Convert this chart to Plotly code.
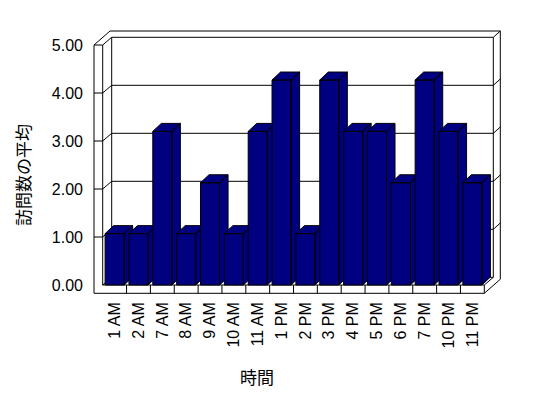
import plotly.graph_objects as go

# ---------------- data ----------------
hours = ["1 AM", "2 AM", "7 AM", "8 AM", "9 AM", "10 AM", "11 AM", "1 PM",
         "2 PM", "3 PM", "4 PM", "5 PM", "6 PM", "7 PM", "10 PM", "11 PM"]
avg_visits = [1.07, 1.07, 3.20, 1.07, 2.13, 1.07, 3.20, 4.27,
              1.07, 4.27, 3.20, 3.20, 2.13, 4.27, 3.20, 2.13]
y_tick_values = [0, 1, 2, 3, 4, 5]
y_tick_labels = ["0.00", "1.00", "2.00", "3.00", "4.00", "5.00"]
x_title = "時間"
y_title = "訪問数の平均"

# ---------------- geometry ----------------
W, H = 548, 398
PX_X = 23.85          # pixels per category slot
PX_Y = 48.0           # pixels per value unit
L, R, T, B = 90, 502, 28, 296       # plot-area pixel box
FRONT_LEFT_PX, FLOOR_PX = 102.7, 285.0
N = len(hours)
YMAX = y_tick_values[-1]

x0 = -0.5 - (FRONT_LEFT_PX - L) / PX_X
x1 = x0 + (R - L) / PX_X
y0 = -(B - FLOOR_PX) / PX_Y
y1 = y0 + (B - T) / PX_Y

BAR_HALF = 0.4
BDX, BDY = 8.5 / PX_X, 8.0 / PX_Y      # bar depth
WT = 8.7 / PX_X                          # left wall thickness
FT = 8.3 / PX_Y                          # floor thickness
DX1, DY1 = 9.0 / PX_X, 7.7 / PX_Y        # depth to back wall face
DX2, DY2 = 16.0 / PX_X, 14.0 / PX_Y      # depth to back of wall

NAVY = "#000080"
EDGE = "black"
TICK_FONT = dict(family="Liberation Sans, Arial, sans-serif", size=16, color="black")

fig = go.Figure()

# bars (front, top, side faces) drawn left to right
for i, v in enumerate(avg_visits):
    xl, xr = i - BAR_HALF, i + BAR_HALF
    xs = [xl, xr, xr, xl, xl, None,
          xl, xr, xr + BDX, xl + BDX, xl, None,
          xr, xr + BDX, xr + BDX, xr, xr]
    ys = [0, 0, v, v, 0, None,
          v, v, v + BDY, v + BDY, v, None,
          0, BDY, v + BDY, v, 0]
    fig.add_trace(go.Scatter(
        x=xs, y=ys, mode="lines", fill="toself", fillcolor=NAVY,
        line=dict(color=EDGE, width=1), name=hours[i],
        hoverinfo="skip", showlegend=False))

# frame
XL, XO, XR = -0.5, -0.5 - WT, N - 0.5
segs = [
    (XO, -FT, XO, YMAX), (XL, 0, XL, YMAX), (XO, YMAX, XL, YMAX),
    (XO, YMAX, XO + DX2, YMAX + DY2), (XO + DX2, YMAX + DY2, XR + DX2, YMAX + DY2),
    (XL, YMAX, XL + DX1, YMAX + DY1), (XL + DX1, YMAX + DY1, XR + DX1, YMAX + DY1),
    (XL + DX1, DY1, XL + DX1, YMAX + DY1), (XR + DX1, DY1, XR + DX1, YMAX + DY1),
    (XR + DX2, -FT + DY2, XR + DX2, YMAX + DY2),
    (XR + DX1, YMAX + DY1, XR + DX2, YMAX + DY2),
    (XL, 0, XR, 0), (XO, -FT, XR, -FT), (XR, -FT, XR, 0),
    (XR, 0, XR + DX1, DY1), (XR, -FT, XR + DX2, -FT + DY2),
    (XL + DX1, DY1, XR + DX1, DY1), (XL, 0, XL + DX1, DY1),
]
for k in range(1, N):
    segs.append((k - 0.5, -FT, k - 0.5, 0))
for v in y_tick_values[1:-1]:
    segs += [
        (XL + DX1, v + DY1, XR + DX1, v + DY1),
        (XL, v, XL + DX1, v + DY1),
        (XO, v, XL, v),
        (XR + DX1, v + DY1, XR + DX2, v + DY2),
    ]
for (ax, ay, bx, by) in segs:
    fig.add_shape(type="line", xref="x", yref="y", x0=ax, y0=ay, x1=bx, y1=by,
                  line=dict(color=EDGE, width=1), layer="below")

def pxx(p):
    return (p - L) / (R - L)

def pxy(p):
    return (B - p) / (B - T)

fig.add_annotation(text=y_title, x=pxx(22), y=pxy(175), xref="paper", yref="paper",
                   showarrow=False, textangle=-90, xanchor="center", yanchor="middle",
                   font=dict(family="Noto Sans CJK JP", size=17, color="black"))
fig.add_annotation(text=x_title, x=pxx(257), y=pxy(376.5), xref="paper", yref="paper",
                   showarrow=False, xanchor="center", yanchor="middle",
                   font=dict(family="Noto Sans CJK JP", size=17, color="black"))

fig.update_layout(
    width=W, height=H,
    margin=dict(l=L, r=W - R, t=T, b=H - B, pad=0),
    paper_bgcolor="white", plot_bgcolor="white",
    showlegend=False,
    font=dict(family="Liberation Sans, Arial, sans-serif", size=15, color="black"),
    xaxis=dict(range=[x0, x1], tickmode="array", tickvals=list(range(N)),
               ticktext=hours, tickangle=-90, showgrid=False, zeroline=False,
               showline=False, ticks="", ticklabelstandoff=2, fixedrange=True,
               tickfont=TICK_FONT),
    yaxis=dict(range=[y0, y1], tickmode="array", tickvals=y_tick_values,
               ticktext=y_tick_labels, showgrid=False, zeroline=False,
               showline=False, ticks="", ticklabelstandoff=6, fixedrange=True,
               tickfont=TICK_FONT),
)

fig.write_html("out.html")
